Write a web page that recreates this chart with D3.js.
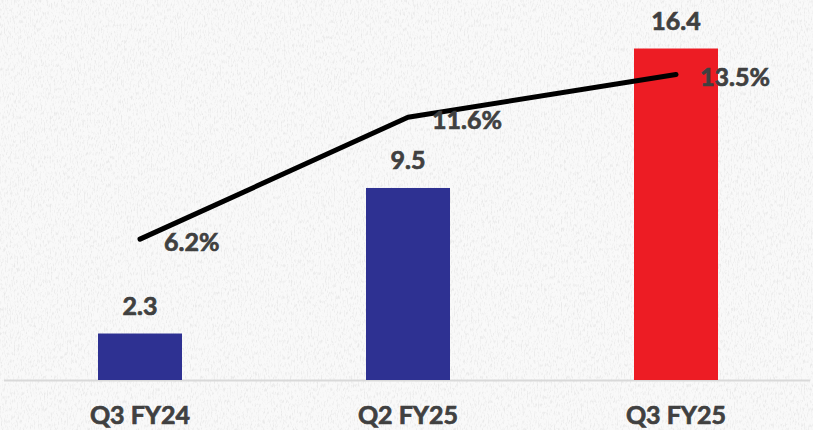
<!DOCTYPE html>
<html><head><meta charset="utf-8">
<script src="https://cdn.jsdelivr.net/npm/d3@7"></script>
<style>html,body{margin:0;padding:0;background:#f6f6f6;}svg{display:block;}</style>
</head><body>
<script>
const categories = ["Q3 FY24", "Q2 FY25", "Q3 FY25"];
const barValues = [2.3, 9.5, 16.4];
const barLabels = ["2.3", "9.5", "16.4"];
const pctValues = [6.2, 11.6, 13.5];
const pctLabels = ["6.2%", "11.6%", "13.5%"];
const barColors = ["#2e3192", "#2e3192", "#ed1c24"];

const W = 813, H = 430;
const svg = d3.select("body").append("svg").attr("width", W).attr("height", H);

// paper texture background
const defs = svg.append("defs");
const f = defs.append("filter").attr("id", "paper").attr("x", 0).attr("y", 0).attr("width", "100%").attr("height", "100%");
f.append("feTurbulence").attr("type", "fractalNoise").attr("baseFrequency", "0.7 0.25").attr("numOctaves", 3).attr("seed", 4).attr("result", "n");
f.append("feColorMatrix").attr("in", "n").attr("type", "matrix")
  .attr("values", "0 0 0 0 0.5  0 0 0 0 0.5  0 0 0 0 0.5  -3 0 0 0 1.55");
svg.append("rect").attr("width", W).attr("height", H).attr("fill", "#f9f9f9");
svg.append("rect").attr("width", W).attr("height", H).attr("filter", "url(#paper)").attr("opacity", 0.25);

const baseY = 380;
const x = d3.scalePoint().domain(categories).range([140, 676]);
const y = d3.scaleLinear().domain([0, 18.8]).range([baseY, 0]);
const yp = d3.scaleLinear().domain([0, 16.8]).range([baseY - 1, 0]);
const bw = 84;
const font = "Lato, 'Open Sans', sans-serif";
const txt = "#404040";
const fw = 700;
const fs = 25;

function styleText(s) {
  s.attr("font-family", font).attr("font-weight", fw).attr("font-size", fs)
   .attr("fill", txt).attr("stroke", txt).attr("stroke-width", 0.7);
}

// axis line
svg.append("line").attr("x1", 4).attr("x2", 810).attr("y1", baseY + 0.5).attr("y2", baseY + 0.5)
  .attr("stroke", "#d9d9d9").attr("stroke-width", 2);

// bars
svg.selectAll("rect.bar").data(barValues).join("rect").attr("class", "bar")
  .attr("x", (d, i) => x(categories[i]) - bw / 2)
  .attr("width", bw)
  .attr("y", d => y(d))
  .attr("height", d => baseY - y(d))
  .attr("fill", (d, i) => barColors[i]);

// bar labels
svg.selectAll("text.bl").data(barValues).join("text").attr("class", "bl")
  .attr("x", (d, i) => x(categories[i]))
  .attr("y", d => y(d) - 19)
  .attr("text-anchor", "middle")
  .call(styleText)
  .text((d, i) => barLabels[i]);

// line
const line = d3.line().x((d, i) => x(categories[i])).y(d => yp(d));
svg.append("path").datum(pctValues).attr("d", line)
  .attr("fill", "none").attr("stroke", "#000").attr("stroke-width", 5)
  .attr("stroke-linecap", "round").attr("stroke-linejoin", "round");

// pct labels
svg.selectAll("text.pl").data(pctValues).join("text").attr("class", "pl")
  .attr("x", (d, i) => x(categories[i]) + 24)
  .attr("y", d => yp(d) + 12)
  .call(styleText)
  .text((d, i) => pctLabels[i]);

// category labels
svg.selectAll("text.cl").data(categories).join("text").attr("class", "cl")
  .attr("x", d => x(d))
  .attr("y", 424)
  .attr("text-anchor", "middle")
  .call(styleText)
  .text(d => d);
</script>
</body></html>
